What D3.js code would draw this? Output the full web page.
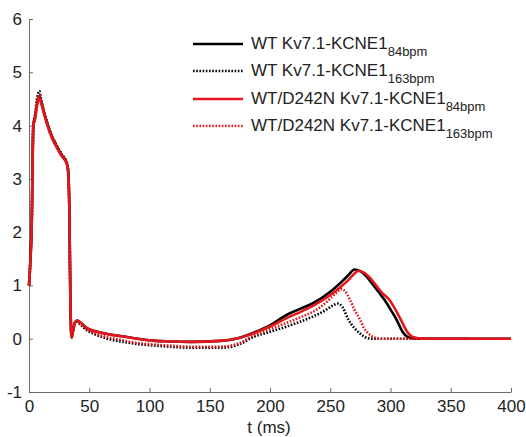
<!DOCTYPE html>
<meta charset="utf-8">
<title>Kv7.1-KCNE1 current</title>
<style>
html, body { margin: 0; padding: 0; background: #fff; }
svg { display: block; font-family: "Liberation Sans", Arial, sans-serif; }
.axis path, .axis line { stroke: #6b6b6b; stroke-width: 1; }
.axis text { font-size: 17px; fill: #222; }
.trace { fill: none; stroke-width: 2.6; stroke-linejoin: round; }
.legend text { font-size: 17px; fill: #222; }
</style>
<body>
<svg width="526" height="437"></svg>
<script src="https://cdnjs.cloudflare.com/ajax/libs/d3/7.8.5/d3.min.js"></script>
<script>

// values: time (ms) and current
var wt84T  = [0, 1, 2.2, 3.6, 5, 7, 8.6, 10, 13, 17.4, 22, 27, 31.3, 32.5, 33.5, 34.3, 35.3, 36.5, 38, 40, 43, 48, 55, 65, 75.5, 90, 105, 117, 135, 158.5, 175, 186, 200, 214, 225, 236, 250, 260, 265, 270, 275, 280, 285, 290, 295, 300, 305, 310, 313, 318, 325, 400];
var wt84V  = [1.0, 1.4, 2.1, 4.0, 4.15, 4.45, 4.55, 4.45, 4.2, 3.88, 3.65, 3.45, 3.3, 3.15, 2.4, 0.8, 0.02, 0.15, 0.3, 0.34, 0.3, 0.2, 0.14, 0.09, 0.05, 0.0, -0.04, -0.05, -0.06, -0.04, 0.02, 0.11, 0.25, 0.45, 0.56, 0.67, 0.88, 1.08, 1.19, 1.3, 1.27, 1.17, 1.03, 0.88, 0.73, 0.55, 0.36, 0.13, 0.05, 0.01, 0, 0];

var wt163T = [0, 1, 2.2, 3.6, 5, 7, 8.6, 10, 13, 17.4, 22, 27, 31.3, 32.5, 33.5, 34.3, 35.3, 36.5, 38, 40, 43, 48, 55, 65, 75.5, 90, 105, 117, 135, 158.5, 175, 186, 200, 214, 225, 236, 245, 252, 256, 260, 265, 270, 274.7, 280, 285, 366];
var wt163V = [1.0, 1.4, 2.1, 4.0, 4.2, 4.55, 4.65, 4.5, 4.22, 3.9, 3.67, 3.47, 3.32, 3.15, 2.4, 0.8, 0.02, 0.13, 0.27, 0.31, 0.26, 0.16, 0.08, 0.0, -0.05, -0.1, -0.13, -0.15, -0.17, -0.17, -0.1, 0.03, 0.13, 0.23, 0.32, 0.42, 0.52, 0.62, 0.66, 0.6, 0.36, 0.2, 0.1, 0.02, 0, 0];

var mut84T = [0, 1, 2.2, 3.6, 5, 7, 8.6, 10, 13, 17.4, 22, 27, 31.3, 32.5, 33.5, 34.3, 35.3, 36.5, 38, 40, 43, 48, 55, 65, 75.5, 90, 105, 117, 135, 158.5, 175, 186, 200, 214, 225, 236, 250, 260, 265, 270, 273, 278, 283, 288, 293, 299, 304, 308.5, 314.8, 318, 323, 330, 400];
var mut84V = [1.0, 1.4, 2.1, 4.0, 4.12, 4.42, 4.52, 4.43, 4.18, 3.86, 3.63, 3.43, 3.28, 3.13, 2.4, 0.8, 0.02, 0.15, 0.3, 0.34, 0.3, 0.2, 0.14, 0.09, 0.05, 0.0, -0.04, -0.05, -0.06, -0.04, 0.02, 0.1, 0.23, 0.39, 0.5, 0.62, 0.82, 1.0, 1.1, 1.22, 1.27, 1.24, 1.14, 1.0, 0.86, 0.73, 0.55, 0.36, 0.1, 0.04, 0.01, 0, 0];

var mut163T = [0, 1, 2.2, 3.6, 5, 7, 8.6, 10, 13, 17.4, 22, 27, 31.3, 32.5, 33.5, 34.3, 35.3, 36.5, 38, 40, 43, 48, 55, 65, 75.5, 90, 105, 117, 135, 158.5, 175, 186, 200, 214, 225, 236, 245, 252, 256, 259, 262, 266.4, 270, 274.7, 278, 281.6, 286, 291, 366];
var mut163V = [1.0, 1.4, 2.1, 4.0, 4.15, 4.48, 4.58, 4.47, 4.2, 3.88, 3.65, 3.45, 3.3, 3.14, 2.4, 0.8, 0.02, 0.14, 0.29, 0.33, 0.28, 0.18, 0.1, 0.03, -0.02, -0.08, -0.11, -0.13, -0.15, -0.15, -0.08, 0.06, 0.18, 0.3, 0.4, 0.51, 0.65, 0.8, 0.88, 0.93, 0.9, 0.73, 0.55, 0.36, 0.2, 0.1, 0.03, 0, 0];

var names = ["WT Kv7.1-KCNE1", "WT Kv7.1-KCNE1", "WT/D242N Kv7.1-KCNE1", "WT/D242N Kv7.1-KCNE1"];
var rates = ["84bpm", "163bpm", "84bpm", "163bpm"];
var xTicks = [0, 50, 100, 150, 200, 250, 300, 350, 400];
var yTicks = [-1, 0, 1, 2, 3, 4, 5, 6];

var series = [
  { t: wt84T,  v: wt84V,  color: "#000", dash: null },
  { t: wt163T, v: wt163V, color: "#000", dash: "1.6,1.6" },
  { t: mut84T, v: mut84V, color: "#e3161c", dash: null },
  { t: mut163T, v: mut163V, color: "#e3161c", dash: "1.6,1.6" }
];

var svg = d3.select("svg");

var x = d3.scaleLinear().domain([0, 400]).range([29, 511]);
var y = d3.scaleLinear().domain([-1, 6]).range([392, 19]);

// plain hyphen for negatives, as in the figure
var plain = function(d) { return String(d); };

svg.append("g")
    .attr("class", "axis")
    .attr("transform", "translate(0," + y(-1) + ")")
    .call(d3.axisBottom(x).tickValues(xTicks).tickFormat(plain)
      .tickSizeInner(-4).tickSizeOuter(0).tickPadding(8));

svg.append("g")
    .attr("class", "axis")
    .attr("transform", "translate(" + x(0) + ",0)")
    .call(d3.axisLeft(y).tickValues(yTicks).tickFormat(plain)
      .tickSizeInner(-4).tickSizeOuter(0).tickPadding(7));

svg.selectAll(".axis").attr("font-family", null).attr("font-size", null);

svg.append("text")
    .attr("x", 269)
    .attr("y", 433)
    .attr("text-anchor", "middle")
    .style("font-size", "17px")
    .style("fill", "#222")
    .text("t (ms)");

var line = d3.line()
    .x(function(d) { return x(d[0]); })
    .y(function(d) { return y(d[1]); })
    .curve(d3.curveMonotoneX);

svg.append("g").selectAll("path")
  .data(series)
  .enter().append("path")
    .attr("class", "trace")
    .attr("stroke", function(d) { return d.color; })
    .attr("stroke-dasharray", function(d) { return d.dash; })
    .attr("d", function(d) { return line(d3.zip(d.t, d.v)); });

// legend
var legend = svg.append("g").attr("class", "legend");
var rowY = [44, 71, 99, 126];

series.forEach(function(s, i) {
  legend.append("line")
      .attr("x1", 193).attr("x2", 243)
      .attr("y1", rowY[i]).attr("y2", rowY[i])
      .attr("stroke", s.color)
      .attr("stroke-width", 2.6)
      .attr("stroke-dasharray", s.dash);

  var t = legend.append("text")
      .attr("x", 251)
      .attr("y", rowY[i] + 5);
  t.append("tspan").text(names[i]);
  t.append("tspan")
      .attr("dy", 7)
      .style("font-size", "13px")
      .text(rates[i]);
});

</script>
</body>
